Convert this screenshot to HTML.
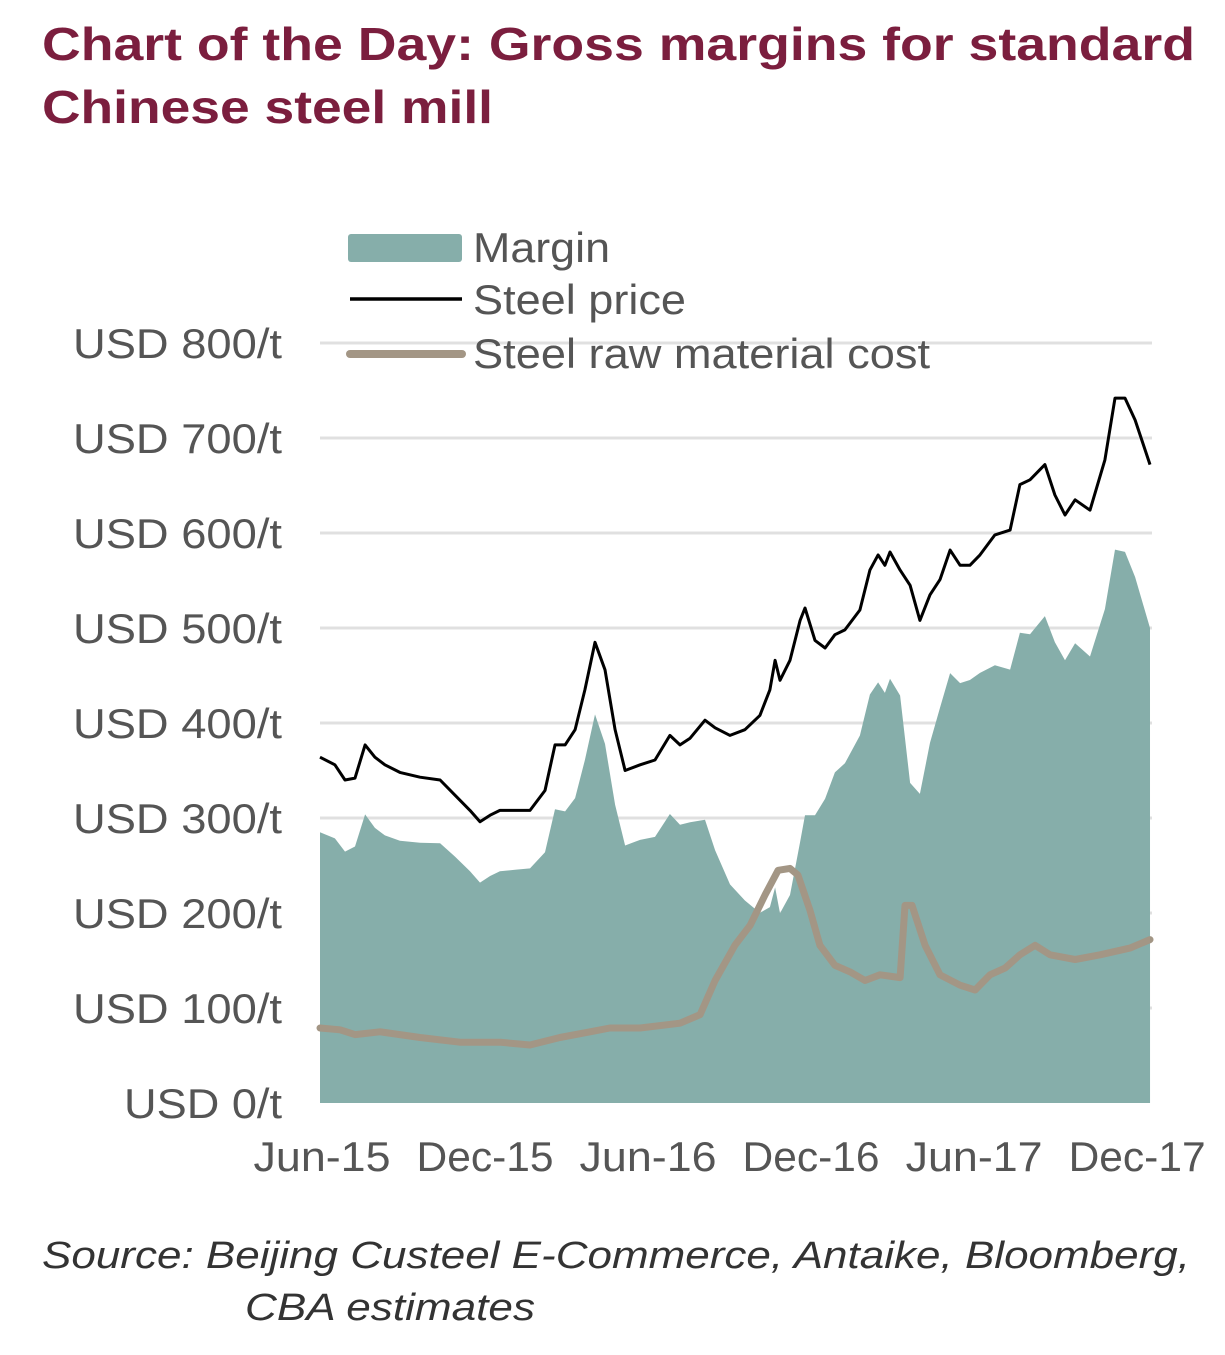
<!DOCTYPE html>
<html><head><meta charset="utf-8">
<style>
body{margin:0;background:#fff;width:1225px;height:1355px;overflow:hidden;font-family:"Liberation Sans",Arial,sans-serif}
svg{position:absolute;left:0;top:0}
</style></head>
<body>
<svg id="chart" width="1225" height="1355">
<text x="42" y="60" font-size="46" font-weight="bold" fill="#7b1e3e" textLength="1153" lengthAdjust="spacingAndGlyphs">Chart of the Day: Gross margins for standard</text>
<text x="42" y="123" font-size="46" font-weight="bold" fill="#7b1e3e" textLength="451" lengthAdjust="spacingAndGlyphs">Chinese steel mill</text>
<g id="grid"></g>
<g id="marks"></g>
<g id="legend">
<rect x="348" y="234" width="114" height="28" rx="3" fill="#86aeaa"/>
<text x="473" y="262" font-size="42" fill="#555" textLength="137" lengthAdjust="spacingAndGlyphs">Margin</text>
<line x1="350" y1="299" x2="462" y2="299" stroke="#000" stroke-width="3.5"/>
<text x="473" y="314" font-size="42" fill="#555" textLength="213" lengthAdjust="spacingAndGlyphs">Steel price</text>
<line x1="350" y1="354" x2="462" y2="354" stroke="#a39685" stroke-width="8" stroke-linecap="round"/>
<text x="473" y="368" font-size="42" fill="#555" textLength="457" lengthAdjust="spacingAndGlyphs">Steel raw material cost</text>
</g>
<text x="42" y="1268" font-size="38" font-style="italic" fill="#333" textLength="1148" lengthAdjust="spacingAndGlyphs">Source: Beijing Custeel E-Commerce, Antaike, Bloomberg,</text>
<text x="245" y="1320" font-size="38" font-style="italic" fill="#333" textLength="290" lengthAdjust="spacingAndGlyphs">CBA estimates</text>
</svg>
<script>
const yTicks=[0,100,200,300,400,500,600,700,800];
const xTickLabels=["Jun-15","Dec-15","Jun-16","Dec-16","Jun-17","Dec-17"];
const xTickMonths=[0,6,12,18,24,30];
const priceMonths=[0,0.55,0.92,1.29,1.66,2.02,2.39,2.94,3.68,4.42,4.97,5.52,5.89,6.26,6.62,7.18,7.73,8.28,8.65,9.02,9.39,9.75,10.12,10.49,10.86,11.23,11.78,12.33,12.88,13.25,13.62,14.17,14.54,15.09,15.64,16.19,16.56,16.75,16.93,17.30,17.67,17.85,18.22,18.59,18.95,19.32,19.87,20.24,20.54,20.79,20.98,21.35,21.72,22.08,22.45,22.82,23.19,23.56,23.92,24.29,24.84,25.40,25.76,26.13,26.68,27.05,27.42,27.79,28.34,28.89,29.26,29.63,30.00,30.55];
const priceValues=[364,356,340,342,377,364,356,348,343,340,324,308,296,303,308,308,308,329,377,377,393,435,485,456,393,350,356,361,387,377,384,403,395,387,393,408,435,466,445,466,508,521,487,479,493,498,519,561,577,566,580,561,545,508,535,551,582,566,566,577,598,603,651,656,672,640,619,635,624,677,742,742,719,672];
const costMonths=[0,0.74,1.29,2.21,3.68,5.15,6.62,7.73,8.83,9.94,10.67,11.78,13.25,13.99,14.54,15.27,15.83,16.38,16.86,17.30,17.59,18.03,18.40,18.95,19.51,20.06,20.61,21.35,21.53,21.79,22.27,22.82,23.56,24.11,24.66,25.21,25.76,26.32,26.87,27.79,28.71,29.81,30.55];
const costValues=[79,77,72,75,69,64,64,61,69,75,79,79,84,93,129,166,187,219,245,247,240,203,166,145,138,129,135,132,208,208,166,135,124,119,135,142,156,166,156,151,156,163,172];

const X0=320,PXM=27.17,Y0=1103,PXV=0.95;
const xs=m=>X0+m*PXM, ys=v=>Y0-v*PXV;
const NS="http://www.w3.org/2000/svg";
function mk(tag,attrs,parent){const e=document.createElementNS(NS,tag);for(const k in attrs)e.setAttribute(k,attrs[k]);parent.appendChild(e);return e;}
const grid=document.getElementById('grid'),marks=document.getElementById('marks');
yTicks.forEach(v=>{
  if(v>0){const l=mk('line',{x1:320,x2:1152,y1:ys(v),y2:ys(v),stroke:'#e0e0e0','stroke-width':3},grid);
  
  }
  const label='USD '+v+'/t';
  const t=mk('text',{x:282,y:ys(v)+15,'font-size':42,fill:'#555','text-anchor':'end',textLength:(v>=100?209:158),lengthAdjust:'spacingAndGlyphs'},grid);
  t.textContent=label;
  
  
});
xTickMonths.forEach((m,i)=>{
  const t=mk('text',{x:xs(m)+2,y:1171,'font-size':42,fill:'#555','text-anchor':'middle',textLength:137,lengthAdjust:'spacingAndGlyphs'},grid);
  t.textContent=xTickLabels[i];
  
  
});
function interp(ms,vs,m){for(let i=1;i<ms.length;i++){if(m<=ms[i]){const f=(m-ms[i-1])/(ms[i]-ms[i-1]);return vs[i-1]+f*(vs[i]-vs[i-1]);}}return vs[vs.length-1];}
let d='M'+xs(priceMonths[0])+','+Y0;
priceMonths.forEach((m,i)=>{d+=' L'+xs(m).toFixed(1)+','+ys(priceValues[i]-interp(costMonths,costValues,m)).toFixed(1);});
d+=' L'+xs(priceMonths[priceMonths.length-1])+','+Y0+' Z';
const area=mk('path',{d:d,fill:'#86aeaa'},marks);


const cost=mk('polyline',{points:costMonths.map((m,i)=>xs(m).toFixed(1)+','+ys(costValues[i]).toFixed(1)).join(' '),fill:'none',stroke:'#a39685','stroke-width':7,'stroke-linejoin':'round','stroke-linecap':'round'},marks);


const price=mk('polyline',{points:priceMonths.map((m,i)=>xs(m).toFixed(1)+','+ys(priceValues[i]).toFixed(1)).join(' '),fill:'none',stroke:'#000','stroke-width':3,'stroke-linejoin':'round'},marks);


</script>
</body></html>
